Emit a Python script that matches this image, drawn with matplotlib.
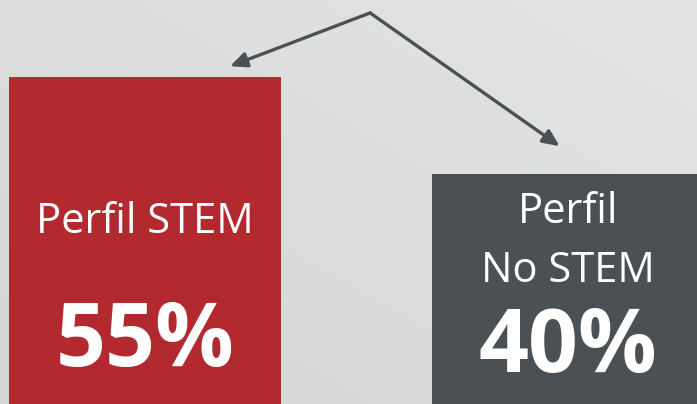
import numpy as np
import matplotlib.pyplot as plt
from matplotlib.colors import LinearSegmentedColormap

labels = ['Perfil STEM', 'Perfil\nNo STEM']
values = [55, 40]
colors = ['#B22A30', '#4B5055']

fig = plt.figure(figsize=(6.97, 4.04), dpi=100)
ax = fig.add_axes([0, 0, 1, 1])

# subtle background gradient
gx, gy = np.meshgrid(np.linspace(0, 1, 200), np.linspace(0, 1, 120))
grad = 0.5 * gx + 0.5 * (1 - gy)
bg = LinearSegmentedColormap.from_list('bg', ['#D4D5D5', '#E4E4E4'])
ax.imshow(grad, extent=[-0.343, 1.305, 4.5, 66.9], cmap=bg, aspect='auto', zorder=0, origin='upper')

x = np.arange(len(values))
ax.bar(x, values, width=0.643, color=colors, zorder=2)

ax.set_xlim(-0.343, 1.305)
ax.set_ylim(4.5, 66.9)
ax.axis('off')

txt = dict(ha='center', va='baseline', color='white', family='Open Sans', zorder=3)

# labels inside bars
ax.text(0, 30.9, labels[0], fontsize=30, **txt)
ax.text(0, 10.4, f'{values[0]}%', fontsize=63, fontweight='bold', **txt)
line1, line2 = labels[1].split('\n')
ax.text(1, 32.5, line1, fontsize=30, **txt)
ax.text(1, 23.3, line2, fontsize=30, **txt)
ax.text(1, 9.4, f'{values[1]}%', fontsize=63, fontweight='bold', **txt)

# arrows from a common point
start = (0.531, 0.968)
for tip in [(0.330, 0.836), (0.803, 0.638)]:
    ax.annotate('', xy=tip, xytext=start, xycoords='axes fraction', textcoords='axes fraction',
                arrowprops=dict(arrowstyle='-|>,head_length=1.0,head_width=0.45', color='#4B5055', lw=2.4,
                                shrinkA=0, shrinkB=0), zorder=4)

fig.savefig('out.png', dpi=100)
